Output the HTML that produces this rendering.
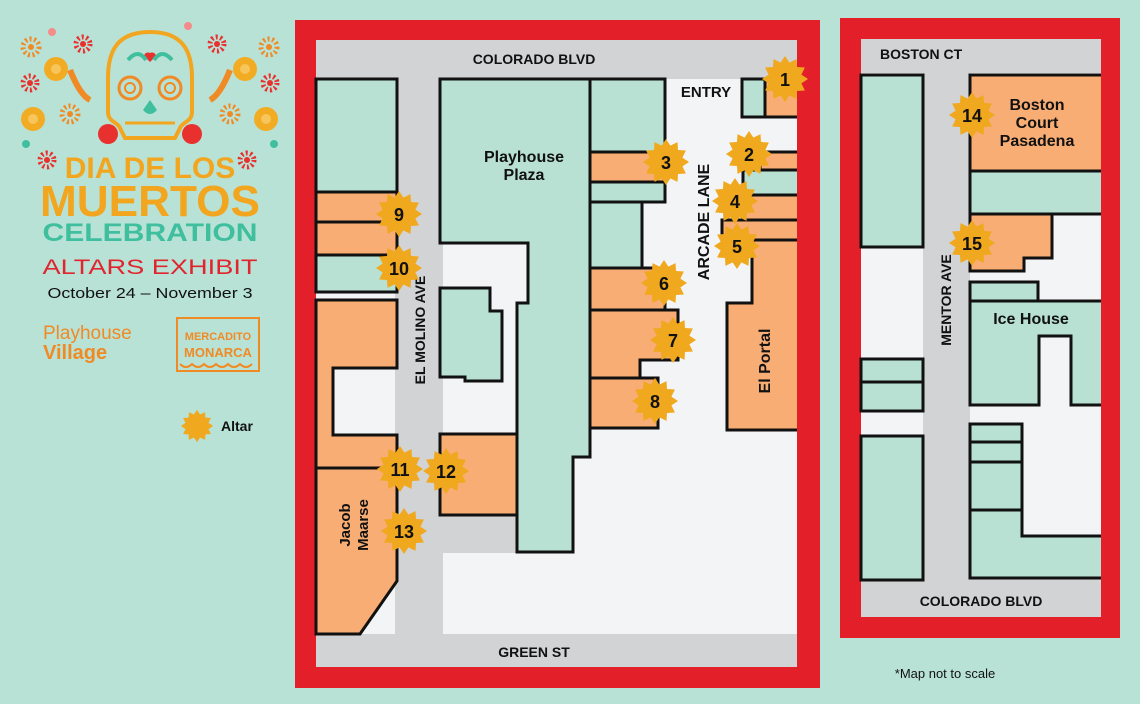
<!DOCTYPE html>
<html><head><meta charset="utf-8"><style>
html,body{margin:0;padding:0;background:#b9e2d6;}
svg{display:block}
text{font-family:"Liberation Sans",sans-serif;font-weight:bold}
</style></head><body>
<svg width="1140" height="704" viewBox="0 0 1140 704" xmlns="http://www.w3.org/2000/svg">
<defs>
<g id="st"><polygon fill="#f0a81e" points="23,0 16.4,4.4 19.9,11.5 12,12 11.5,19.9 4.4,16.4 0,23 -4.4,16.4 -11.5,19.9 -12,12 -19.9,11.5 -16.4,4.4 -23,0 -16.4,-4.4 -19.9,-11.5 -12,-12 -11.5,-19.9 -4.4,-16.4 0,-23 4.4,-16.4 11.5,-19.9 12,-12 19.9,-11.5 16.4,-4.4"/></g>
<g id="fl"><circle r="7" fill="none" stroke="#e8312f" stroke-width="5" stroke-dasharray="2 2.5"/><circle r="3" fill="#e8312f"/></g>
<g id="fo"><circle r="8" fill="none" stroke="#f08a24" stroke-width="5" stroke-dasharray="2 2.5"/><circle r="3" fill="#f08a24"/></g>
<g id="fy"><circle r="12" fill="#f2ac24"/><circle r="5" fill="#f7c55a"/></g>
</defs>
<rect width="1140" height="704" fill="#b9e2d6"/>

<!-- LEFT PANEL -->
<g>
<path d="M150 32 C118 32 108 50 108 78 L108 112 C108 122 118 122 120 128 L125 138 L175 138 L180 128 C182 122 192 122 192 112 L192 78 C192 50 182 32 150 32 Z" fill="none" stroke="#f2a51f" stroke-width="4"/>
<circle cx="130" cy="88" r="11" fill="none" stroke="#f08a24" stroke-width="3"/><circle cx="130" cy="88" r="5" fill="none" stroke="#f08a24" stroke-width="2"/>
<circle cx="170" cy="88" r="11" fill="none" stroke="#f08a24" stroke-width="3"/><circle cx="170" cy="88" r="5" fill="none" stroke="#f08a24" stroke-width="2"/>
<path d="M150 100 L143 110 Q150 118 157 110 Z" fill="#3fbf9e"/>
<path d="M150 62 l-6 -6 a4 4 0 0 1 6 -3 a4 4 0 0 1 6 3 z" fill="#e8312f"/>
<path d="M128 60 Q138 48 146 60 M172 60 Q162 48 154 60" stroke="#3fbf9e" stroke-width="4" fill="none"/>
<line x1="125" y1="123" x2="175" y2="123" stroke="#f2a51f" stroke-width="3"/>
<circle cx="108" cy="134" r="10" fill="#e8312f"/><circle cx="192" cy="134" r="10" fill="#e8312f"/>
<use href="#fl" x="83" y="44"/><use href="#fl" x="217" y="44"/>
<use href="#fo" x="31" y="47"/><use href="#fo" x="269" y="47"/>
<use href="#fy" x="56" y="69"/><use href="#fy" x="245" y="69"/>
<use href="#fl" x="30" y="83"/><use href="#fl" x="270" y="83"/>
<use href="#fo" x="70" y="114"/><use href="#fo" x="230" y="114"/>
<use href="#fy" x="33" y="119"/><use href="#fy" x="266" y="119"/>
<use href="#fl" x="47" y="160"/><use href="#fl" x="247" y="160"/>
<path d="M70 70 Q80 95 90 100 M230 70 Q220 95 210 100" stroke="#f08a24" stroke-width="6" fill="none"/>
<circle cx="52" cy="32" r="4" fill="#f48c8c"/><circle cx="188" cy="26" r="4" fill="#f48c8c"/><circle cx="26" cy="144" r="4" fill="#3fbf9e"/><circle cx="274" cy="144" r="4" fill="#3fbf9e"/>
<text x="150" y="178" text-anchor="middle" font-size="30" fill="#f2a51f">DIA DE LOS</text>
<text x="150" y="216" text-anchor="middle" font-size="44" fill="#f2a51f" textLength="220" lengthAdjust="spacingAndGlyphs">MUERTOS</text>
<text x="150" y="241" text-anchor="middle" font-size="25" fill="#3fbf9e" textLength="215" lengthAdjust="spacingAndGlyphs">CELEBRATION</text>
<text x="150" y="274" text-anchor="middle" font-size="21" fill="#e0252e" textLength="215" lengthAdjust="spacingAndGlyphs" style="font-weight:normal">ALTARS EXHIBIT</text>
<text x="150" y="298" text-anchor="middle" font-size="15" fill="#111" style="font-weight:normal" textLength="205" lengthAdjust="spacingAndGlyphs">October 24 – November 3</text>
<text x="43" y="339" font-size="19" fill="#f08a24" style="font-weight:normal">Playhouse</text>
<text x="43" y="359" font-size="20" fill="#f08a24">Village</text>
<rect x="177" y="318" width="82" height="53" fill="none" stroke="#f08a24" stroke-width="2"/>
<text x="218" y="340" text-anchor="middle" font-size="11" fill="#f08a24">MERCADITO</text>
<text x="218" y="357" text-anchor="middle" font-size="13" fill="#f08a24">MONARCA</text>
<path d="M180 364 q6 6 12 0 q6 6 12 0 q6 6 12 0 q6 6 12 0 q6 6 12 0 q6 6 12 0" stroke="#f08a24" stroke-width="2" fill="none"/>
<use href="#st" transform="translate(197,426) scale(0.7)"/>
<text x="221" y="431" font-size="14" fill="#111">Altar</text>
</g>

<!-- LEFT MAP -->
<rect x="295" y="20" width="525" height="668" fill="#e3202a"/>
<rect x="316" y="40" width="481" height="627" fill="#f3f4f6"/>
<rect x="316" y="40" width="481" height="39" fill="#d2d3d5"/>
<rect x="316" y="634" width="481" height="33" fill="#d2d3d5"/>
<rect x="395" y="79" width="48" height="555" fill="#d2d3d5"/>
<rect x="443" y="515" width="74" height="38" fill="#d2d3d5"/>
<g stroke="#111" stroke-width="3" stroke-linejoin="miter">
<rect x="316" y="79" width="81" height="113" fill="#b8e1d4"/>
<rect x="316" y="192" width="81" height="30" fill="#f8ad74"/>
<rect x="316" y="222" width="81" height="33" fill="#f8ad74"/>
<rect x="316" y="255" width="81" height="37" fill="#b8e1d4"/>
<polygon points="316,300 397,300 397,368 333,368 333,435 397,435 397,468 316,468" fill="#f8ad74"/>
<polygon points="316,468 397,468 397,581 360,634 316,634" fill="#f8ad74"/>
<polygon points="440,79 590,79 590,457 573,457 573,552 517,552 517,303 528,303 528,243 440,243" fill="#b8e1d4"/>
<polygon points="440,288 490,288 490,311 502,311 502,381 465,381 465,377 440,377" fill="#b8e1d4"/>
<rect x="440" y="434" width="77" height="81" fill="#f8ad74"/>
<rect x="590" y="79" width="75" height="73" fill="#b8e1d4"/>
<rect x="590" y="152" width="75" height="30" fill="#f8ad74"/>
<rect x="590" y="182" width="75" height="20" fill="#b8e1d4"/>
<rect x="590" y="202" width="52" height="66" fill="#b8e1d4"/>
<rect x="590" y="268" width="75" height="42" fill="#f8ad74"/>
<polygon points="590,310 678,310 678,360 640,360 640,378 590,378" fill="#f8ad74"/>
<rect x="590" y="378" width="68" height="50" fill="#f8ad74"/>
<rect x="742" y="79" width="23" height="38" fill="#b8e1d4"/>
<rect x="765" y="79" width="34" height="38" fill="#f8ad74"/>
<rect x="760" y="152" width="39" height="18" fill="#f8ad74"/>
<rect x="743" y="170" width="56" height="25" fill="#b8e1d4"/>
<rect x="743" y="195" width="56" height="25" fill="#f8ad74"/>
<rect x="722" y="220" width="77" height="20" fill="#f8ad74"/>
<polygon points="752,240 799,240 799,430 727,430 727,303 752,303" fill="#f8ad74"/>
</g>
<rect x="797" y="40" width="4" height="627" fill="#e3202a"/>
<g fill="#111">
<text x="534" y="64" text-anchor="middle" font-size="14">COLORADO BLVD</text>
<text x="534" y="657" text-anchor="middle" font-size="14">GREEN ST</text>
<text x="706" y="97" text-anchor="middle" font-size="15">ENTRY</text>
<text x="524" y="162" text-anchor="middle" font-size="16">Playhouse</text>
<text x="524" y="180" text-anchor="middle" font-size="16">Plaza</text>
<text transform="translate(709,222) rotate(-90)" text-anchor="middle" font-size="16">ARCADE LANE</text>
<text transform="translate(770,361) rotate(-90)" text-anchor="middle" font-size="16">El Portal</text>
<text transform="translate(425,330) rotate(-90)" text-anchor="middle" font-size="14">EL MOLINO AVE</text>
<text transform="translate(350,525) rotate(-90)" text-anchor="middle" font-size="15">Jacob</text>
<text transform="translate(368,525) rotate(-90)" text-anchor="middle" font-size="15">Maarse</text>
</g>

<!-- RIGHT MAP -->
<rect x="840" y="18" width="280" height="620" fill="#e3202a"/>
<rect x="861" y="39" width="240" height="578" fill="#f3f4f6"/>
<rect x="861" y="39" width="240" height="34" fill="#d2d3d5"/>
<rect x="861" y="579" width="240" height="38" fill="#d2d3d5"/>
<rect x="923" y="73" width="47" height="506" fill="#d2d3d5"/>
<g stroke="#111" stroke-width="3">
<rect x="861" y="75" width="62" height="172" fill="#b8e1d4"/>
<rect x="861" y="359" width="62" height="23" fill="#b8e1d4"/>
<rect x="861" y="382" width="62" height="29" fill="#b8e1d4"/>
<rect x="861" y="436" width="62" height="144" fill="#b8e1d4"/>
<rect x="970" y="75" width="133" height="96" fill="#f8ad74"/>
<rect x="970" y="171" width="133" height="43" fill="#b8e1d4"/>
<polygon points="970,214 1052,214 1052,258 1024,258 1024,271 970,271" fill="#f8ad74"/>
<rect x="970" y="282" width="68" height="19" fill="#b8e1d4"/>
<polygon points="970,301 1103,301 1103,405 1071,405 1071,336 1039,336 1039,405 970,405" fill="#b8e1d4"/>
<rect x="970" y="424" width="52" height="18" fill="#b8e1d4"/>
<rect x="970" y="442" width="52" height="20" fill="#b8e1d4"/>
<rect x="970" y="462" width="52" height="48" fill="#b8e1d4"/>
<polygon points="970,510 1022,510 1022,536 1103,536 1103,578 970,578" fill="#b8e1d4"/>
</g>
<rect x="1101" y="39" width="4" height="578" fill="#e3202a"/>
<g fill="#111">
<text x="880" y="59" font-size="14">BOSTON CT</text>
<text x="981" y="606" text-anchor="middle" font-size="14">COLORADO BLVD</text>
<text x="1037" y="110" text-anchor="middle" font-size="16">Boston</text>
<text x="1037" y="128" text-anchor="middle" font-size="16">Court</text>
<text x="1037" y="146" text-anchor="middle" font-size="16">Pasadena</text>
<text x="1031" y="324" text-anchor="middle" font-size="16">Ice House</text>
<text transform="translate(951,300) rotate(-90)" text-anchor="middle" font-size="14">MENTOR AVE</text>
<text x="945" y="678" text-anchor="middle" font-size="13" style="font-weight:normal">*Map not to scale</text>
</g>

<!-- STARS -->
<g font-size="18" fill="#111" text-anchor="middle">
<use href="#st" x="785" y="79"/><text x="785" y="86">1</text>
<use href="#st" x="749" y="154"/><text x="749" y="161">2</text>
<use href="#st" x="666" y="162"/><text x="666" y="169">3</text>
<use href="#st" x="735" y="201"/><text x="735" y="208">4</text>
<use href="#st" x="737" y="246"/><text x="737" y="253">5</text>
<use href="#st" x="664" y="283"/><text x="664" y="290">6</text>
<use href="#st" x="673" y="340"/><text x="673" y="347">7</text>
<use href="#st" x="655" y="401"/><text x="655" y="408">8</text>
<use href="#st" x="399" y="214"/><text x="399" y="221">9</text>
<use href="#st" x="399" y="268"/><text x="399" y="275">10</text>
<use href="#st" x="400" y="469"/><text x="400" y="476">11</text>
<use href="#st" x="446" y="471"/><text x="446" y="478">12</text>
<use href="#st" x="404" y="531"/><text x="404" y="538">13</text>
<use href="#st" x="972" y="115"/><text x="972" y="122">14</text>
<use href="#st" x="972" y="243"/><text x="972" y="250">15</text>
</g>
</svg>
</body></html>
